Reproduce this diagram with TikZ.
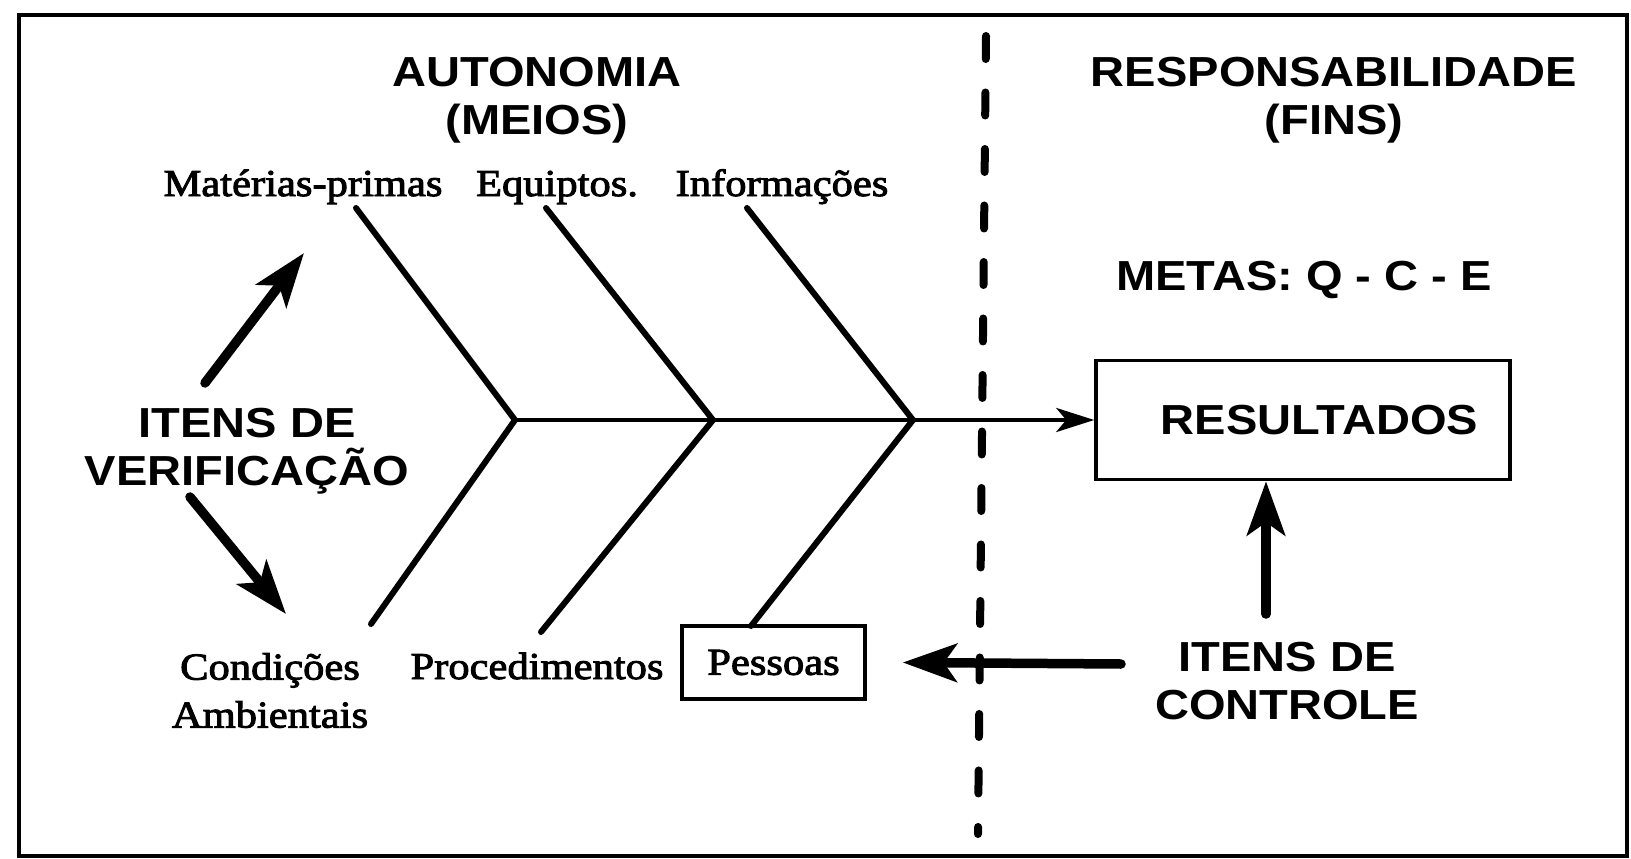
\documentclass[tikz,border=0pt]{standalone}
\usepackage{fontspec}
\setmainfont{Liberation Serif}[FakeStretch=1.12,FakeBold=2.5]
\newfontfamily\headfont{Liberation Sans}[FakeStretch=1.12]
\usetikzlibrary{arrows.meta}
\begin{document}
\begin{tikzpicture}[x=1pt,y=-1pt,
  head/.style={font=\headfont\bfseries\fontsize{42}{48}\selectfont, align=center, inner sep=0pt},
  lbl/.style={font=\fontsize{38}{48}\selectfont, inner sep=0pt},
  bone/.style={line width=6pt, line cap=round},
  spine/.style={line width=4.5pt, -{Stealth[length=38pt,width=24pt,inset=10pt]}},
  heavy/.style={line width=9.5pt, line cap=round, -{Stealth[length=54pt,width=38pt,inset=13pt]}},
  box/.style={draw, line width=3.5pt, inner sep=0pt},
  divider/.style={line width=8pt, line cap=round, dash pattern=on 23pt off 33.5pt}
]
\useasboundingbox (0,0) rectangle (1631,859);
\fill[white] (0,0) rectangle (1631,859);
\draw[line width=3.5pt] (19,15) rectangle (1627,856);

% headings
\node[head, anchor=north] (aut) at (537,57) {AUTONOMIA\\(MEIOS)};
\node[head, anchor=north] (resp) at (1334,57) {RESPONSABILIDADE\\(FINS)};
\node[head] (metas) at (1304,280) {METAS: Q - C - E};

% cause labels
\node[lbl, anchor=base] (mat) at (303,196) {Matérias-primas};
\node[lbl, anchor=base] (equ) at (557,196) {Equiptos.};
\node[lbl, anchor=base] (inf) at (782,196) {Informações};
\node[lbl, anchor=north, align=center] (cond) at (270,653) {Condições\\Ambientais};
\node[lbl, anchor=base] (proc) at (537,679) {Procedimentos};
\node[lbl, box, minimum width=183pt, minimum height=73pt] (pes) at (773.5,662.5) {\raisebox{-2pt}{Pessoas}};

% effect box
\node[head, box, minimum width=414pt, minimum height=119pt] (res) at (1303,420) {\hspace*{33pt}RESULTADOS};

% side labels
\node[head, anchor=north] (ver) at (247,408) {ITENS DE\\VERIFICAÇÃO};
\node[head, anchor=north] (ctl) at (1287,642) {ITENS DE\\CONTROLE};

% fishbone
\coordinate (j1) at (515,420);
\coordinate (j2) at (713,420);
\coordinate (j3) at (913,420);
\coordinate (u1) at (356,208);
\coordinate (u2) at (546,208);
\coordinate (u3) at (747,208);
\coordinate (l1) at (371,624);
\coordinate (l2) at (541,632);
\coordinate (l3) at (751,626);
\draw[bone] (u1) -- (j1) -- (l1);
\draw[bone] (u2) -- (j2) -- (l2);
\draw[bone] (u3) -- (j3) -- (l3);
\draw[spine] (j1) -- (res.west);

% dividing line
\coordinate (d1) at (986,36);
\coordinate (d2) at (978,834);
\draw[divider] (d1) -- (d2);

% verification arrows
\coordinate (va1) at (205,383);
\coordinate (va2) at (304,253);
\coordinate (vb1) at (190,497);
\coordinate (vb2) at (286,614);
\draw[heavy] (va1) -- (va2);
\draw[heavy] (vb1) -- (vb2);

% control arrows
\coordinate (ca) at (1121,664);
\coordinate (cb) at (1266,614);
\draw[heavy] (ca) -- ([xshift=36pt]pes.east);
\draw[heavy] (cb) -- (cb |- res.south);
\end{tikzpicture}
\end{document}
